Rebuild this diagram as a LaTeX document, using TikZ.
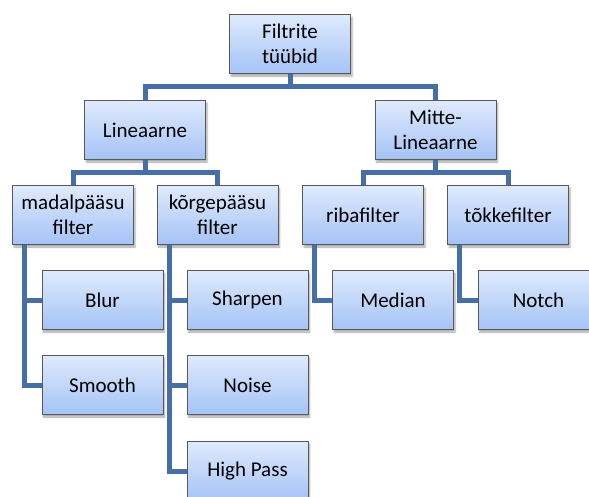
\documentclass[tikz,border=0pt]{standalone}
\usepackage{fontspec}
\setmainfont{Carlito}
\usetikzlibrary{shadows.blur}

\definecolor{boxtop}{RGB}{224,234,253}
\definecolor{boxbot}{RGB}{164,195,246}
\definecolor{linkblue}{RGB}{71,111,167}

\begin{document}
\begin{tikzpicture}[x=1pt, y=-1pt,
    every node/.style={draw=black!65, line width=0.9pt, top color=boxtop, bottom color=boxbot,
      minimum width=121pt, minimum height=59pt, inner sep=0pt, align=center,
      font=\fontsize{21}{24.5}\selectfont,
      blur shadow={shadow xshift=1.5pt, shadow yshift=-2.5pt, shadow blur steps=5, shadow opacity=35}},
    link/.style={draw=linkblue, line width=5pt}]
      \useasboundingbox (0,0) rectangle (589,496);
      \node(1) at (290, 44) {Filtrite\\tüübid};
      \node(2) at (145, 130) {Lineaarne};
      \node(3) at (435.5, 130) {Mitte-\\Lineaarne};
      \node(4) at (73, 215) {madalpääsu\\filter};
      \node(5) at (217.5, 215) {kõrgepääsu\\filter};
      \node(6) at (363, 215) {ribafilter};
      \node(7) at (508, 215) {tõkkefilter};
      \node(8) at (102.5, 300) {Blur};
      \node(9) at (102.5, 385) {Smooth};
      \node(10) at (247.5, 300) {Sharpen};
      \node(11) at (247.5, 385) {Noise};
      \node(12) at (247.5, 471) {High Pass};
      \node(13) at (393, 300) {Median};
      \node(14) at (538.5, 300) {Notch};
      % tree levels
      \draw[link] (1.south) -- ++(0,13) -| (2.north);
      \draw[link] (1.south) -- ++(0,13) -| (3.north);
      \draw[link] (2.south) -- ++(0,13) -| (4.north);
      \draw[link] (2.south) -- ++(0,13) -| (5.north);
      \draw[link] (3.south) -- ++(0,13) -| (6.north);
      \draw[link] (3.south) -- ++(0,13) -| (7.north);
      % leaves hang off the left side
      \draw[link] ([xshift=12.5pt]4.south west) |- (8.west);
      \draw[link] ([xshift=12.5pt]4.south west) |- (9.west);
      \draw[link] ([xshift=12.5pt]5.south west) |- (10.west);
      \draw[link] ([xshift=12.5pt]5.south west) |- (11.west);
      \draw[link] ([xshift=12.5pt]5.south west) |- (12.west);
      \draw[link] ([xshift=12.5pt]6.south west) |- (13.west);
      \draw[link] ([xshift=12.5pt]7.south west) |- (14.west);
    \end{tikzpicture}
\end{document}
